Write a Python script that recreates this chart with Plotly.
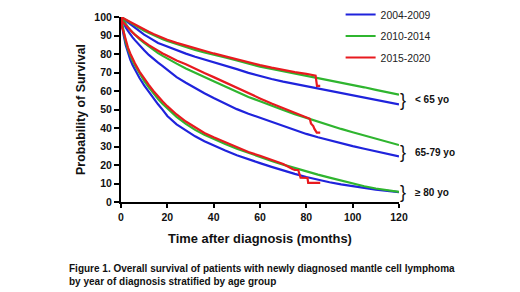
import plotly.graph_objects as go

# Time grid (months) shared by the full-length curves
months = [0, 1, 2, 3, 4, 5, 6, 8, 10, 12, 14, 16, 18, 20, 24, 28, 32, 36, 40, 45, 50,
          55, 60, 65, 70, 75, 80, 85, 90, 95, 100, 105, 110, 115, 120]

# < 65 yo
lt65_2004 = [100, 99, 98, 97, 96, 95.3, 94.5, 92.5, 90.5, 89, 87.5, 86, 85, 84, 82, 80.2, 78.5,
             77, 75.8, 74, 71.8, 69.8, 68, 66.5, 65.1, 63.9, 62.7, 61.5, 60.3, 59, 58, 56.7, 55.3, 54, 52.8]
lt65_2010 = [100, 99.3, 98.5, 97.8, 97, 96.3, 95.5, 94, 92.5, 91.3, 90, 89, 88, 87, 85.3, 83.7, 82.2,
             80.8, 79.8, 78.2, 76.5, 74.8, 73.2, 72, 70.8, 69.6, 68.3, 67, 65.8, 64.5, 63.3, 62, 60.6, 59.3, 58]
lt65_2015_t = [0, 0.5, 1, 2, 3, 4, 5, 6, 8, 10, 12, 14, 16, 18, 20, 24, 28, 32, 36, 40, 45, 50, 55,
               60, 65, 70, 75, 80, 83, 84, 84.3, 84.6, 86]
lt65_2015 = [100, 99.6, 99.4, 98.8, 98, 97.3, 96.6, 96, 94.5, 93.2, 92, 90.8, 89.7, 88.7, 87.7, 86,
             84.5, 83, 81.6, 80.3, 78.7, 77, 75.4, 74, 72.6, 71.3, 70.2, 69.3, 68.6, 68.3, 65.5, 62.8, 62.8]

# 65-79 yo
m65_2004 = [100, 97, 94.5, 92.5, 90.5, 89, 87.5, 84.5, 82, 79.5, 77.3, 75.3, 73.5, 71.5, 67.5, 64.5,
            61.5, 58.8, 56.2, 53, 50.2, 47.7, 45.5, 43, 40.8, 38.7, 36.8, 35, 33.3, 31.8, 30.2, 28.8, 27.3, 26, 24.7]
m65_2010 = [100, 98, 96, 94.5, 93, 91.7, 90.5, 88, 86, 84, 82.2, 80.5, 79, 77.5, 74.8, 72.2, 69.8,
            67.5, 65.3, 62.5, 59.5, 56.8, 54.5, 52, 49.7, 47.5, 45.4, 43.4, 41.4, 39.5, 37.7, 35.9, 34.2, 32.5, 30.8]
m65_2015_t = [0, 0.5, 1, 2, 3, 4, 5, 6, 8, 10, 12, 14, 16, 18, 20, 24, 28, 32, 36, 40, 45, 50, 55,
              60, 65, 70, 75, 80, 81.5, 82, 83, 83.5, 84.5, 86]
m65_2015 = [100, 97.5, 97, 95.5, 94, 92.8, 91.6, 90.5, 88.3, 86.5, 84.8, 83.2, 81.7, 80.3, 79, 76.5,
            74.5, 72, 69.7, 67.5, 64.6, 61.5, 58.5, 56, 53.2, 50.8, 48.5, 46, 45, 42.5, 41, 39.5, 37.5, 37.5]

# >= 80 yo
ge80_2004 = [100, 91, 85, 80.5, 77, 74, 71.5, 67, 63, 59.5, 56, 52.8, 49.8, 46.5, 42, 38.6, 35.5,
             32.8, 30.5, 27.8, 25.3, 23, 21, 19, 17, 15.2, 13.5, 12, 10.7, 9.5, 8.5, 7.5, 6.7, 6, 5.3]
ge80_2010 = [100, 92, 86.5, 82.5, 79, 76.3, 74, 69.5, 65.5, 62, 58.7, 55.7, 53, 50.5, 46, 42.2, 39,
             36.3, 34, 31.3, 28.8, 26.5, 24.3, 22.2, 20.2, 18.3, 16.5, 14.8, 13.2, 11.6, 9.8, 8.5, 7.3, 6.3, 5.5]
ge80_2015_t = [0, 0.5, 1, 2, 3, 4, 5, 6, 8, 10, 12, 14, 16, 18, 20, 24, 28, 32, 36, 40, 45, 50, 55,
               60, 65, 70, 74, 75, 76.5, 77, 77.5, 80.5, 80.8, 86]
ge80_2015 = [100, 94, 92.5, 87.5, 83.5, 80.3, 77.5, 75, 70.5, 66.7, 63.3, 60, 57, 54.3, 51.8, 47.3,
             43.5, 40.2, 37.3, 35, 32.2, 29.5, 27, 25, 22.8, 20.5, 17.8, 17.3, 17.3, 15.2, 13.2, 13, 10.3, 10.3]

period_labels = ["2004-2009", "2010-2014", "2015-2020"]
period_colors = ["#1f23dc", "#2fb52f", "#e81a1f"]

groups = [
    ("< 65 yo", [(months, lt65_2004), (months, lt65_2010), (lt65_2015_t, lt65_2015)]),
    ("65-79 yo", [(months, m65_2004), (months, m65_2010), (m65_2015_t, m65_2015)]),
    ("\u2265 80 yo", [(months, ge80_2004), (months, ge80_2010), (ge80_2015_t, ge80_2015)]),
]

fig = go.Figure()
for pi, (lab, col) in enumerate(zip(period_labels, period_colors)):
    for gi, (gname, series) in enumerate(groups):
        t, s = series[pi]
        fig.add_trace(go.Scatter(
            x=t, y=s, mode="lines", name=lab, legendgroup=lab,
            showlegend=(gi == 0), line=dict(color=col, width=2.2),
            cliponaxis=False, hoverinfo="x+y+name",
        ))

# group labels with braces
group_label_y = [55.4, 27.0, 5.4]
for (gname, _), yv in zip(groups, group_label_y):
    fig.add_annotation(x=1.0145, y=yv, xref="paper", yref="y", text="}", showarrow=False,
                       font=dict(family="Liberation Sans", size=18, color="#111"),
                       xanchor="center", yanchor="middle")
    fig.add_annotation(x=1.05, y=yv, xref="paper", yref="y", text="<b>%s</b>" % gname.replace("<", "&lt;"),
                       showarrow=False, font=dict(family="Liberation Sans", size=10, color="#111"),
                       xanchor="left", yanchor="middle")

caption1 = "Figure 1. Overall survival of patients with newly diagnosed mantle cell lymphoma"
caption2 = "by year of diagnosis stratified by age group"
fig.add_annotation(x=(67 - 121) / 278, y=-66.5 / 185, xref="paper", yref="paper",
                   text="<b>%s</b>" % caption1, showarrow=False, xanchor="left", yanchor="middle",
                   font=dict(family="Liberation Sans", size=10, color="#111"))
fig.add_annotation(x=(67 - 121) / 278, y=-79 / 185, xref="paper", yref="paper",
                   text="<b>%s</b>" % caption2, showarrow=False, xanchor="left", yanchor="middle",
                   font=dict(family="Liberation Sans", size=10, color="#111"))

# The page adds an 8px body margin, so the figure is 8px smaller and shifted accordingly
fig.update_layout(
    width=512, height=284,
    margin=dict(l=113, r=121, t=9, b=90, autoexpand=False),
    paper_bgcolor="white", plot_bgcolor="white",
    font=dict(family="Liberation Sans", color="#111"),
    showlegend=True,
    legend=dict(x=0.79, y=1.092, xanchor="left", yanchor="top",
                font=dict(size=10.4, color="#222"), tracegroupgap=2.5,
                bgcolor="rgba(0,0,0,0)", itemwidth=30),
    xaxis=dict(range=[0, 120], tickvals=[0, 20, 40, 60, 80, 100, 120],
               ticktext=["<b>%d</b>" % v for v in [0, 20, 40, 60, 80, 100, 120]],
               showline=True, linecolor="black", linewidth=2, ticks="outside",
               ticklen=4, tickwidth=2, tickcolor="black", showgrid=False, zeroline=False,
               tickfont=dict(size=10.5, color="#111"), automargin=False,
               title=dict(text="<b>Time after diagnosis (months)</b>", font=dict(size=12.9), standoff=12)),
    yaxis=dict(range=[0, 100], tickvals=list(range(0, 101, 10)),
               ticktext=["<b>%d</b>" % v for v in range(0, 101, 10)],
               showline=True, linecolor="black", linewidth=2, ticks="outside",
               ticklen=5, tickwidth=2, tickcolor="black", showgrid=False, zeroline=False,
               tickfont=dict(size=10.5, color="#111"), automargin=False,
               title=dict(text="<b>Probability of Survival</b>", font=dict(size=12.4), standoff=6)),
)

fig.write_html("out.html")
